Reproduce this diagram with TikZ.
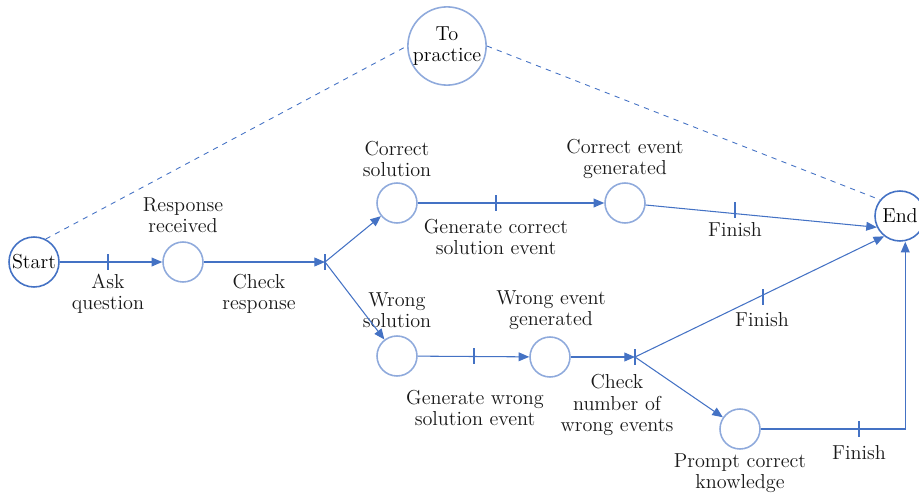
\documentclass[tikz,border=0pt]{standalone}
\usetikzlibrary{arrows.meta}
\definecolor{flowblue}{RGB}{68,114,196}
\definecolor{ringblue}{RGB}{143,170,220}
\begin{document}
\begin{tikzpicture}[x=0.02cm,y=-0.02cm,>={Triangle[length=6pt,width=5pt]},font=\fontsize{11.5}{12}\selectfont]
        \tikzstyle{state}=[circle,draw=ringblue,line width=0.9pt,minimum size=0.8cm,inner sep=0pt,align=center]
        \tikzstyle{terminal}=[circle,draw=flowblue,line width=0.9pt,minimum size=1cm,inner sep=0pt]
        \tikzstyle{edge}=[color=flowblue,line width=0.6pt,->]
        \tikzstyle{link}=[color=flowblue,line width=0.5pt,dashed]
        \tikzstyle{tick}=[color=flowblue,line width=0.6pt]
        \tikzstyle{caption}=[align=center,text=black!90]
        \useasboundingbox (0,0) rectangle (919,497);
       \begin{scope}
         % states
         \node [terminal] (start) at (34,262) {Start};
         \node [terminal] (end) at (900,216) {End};
         \node [state,minimum size=1.42cm] (practice) at (447,46) {To\\practice};
         \node [state] (received) at (183,262) {};
         \node [state] (correct) at (397,203) {};
         \node [state] (correctev) at (625,203) {};
         \node [state] (wrong) at (397,356) {};
         \node [state] (wrongev) at (550,357) {};
         \node [state] (prompt) at (740,429) {};
         \coordinate (check) at (325,262);
         \coordinate (count) at (635,357);
         % state captions
         \node [caption] (received-l) at (183,215) {Response\\received};
         \node [caption] (correct-l) at (397,159) {Correct\\solution};
         \node [caption] (correctev-l) at (625,159) {Correct event\\generated};
         \node [caption] (wrong-l) at (397,310) {Wrong\\solution};
         \node [caption] (wrongev-l) at (551,310) {Wrong event\\generated};
         \node [caption] (prompt-l) at (740,473) {Prompt correct\\knowledge};
         % transitions
         \draw[edge] (start) -- (received);
         \draw[edge] (received) -- (check);
         \draw[edge] (check) -- (correct);
         \draw[edge] (check) -- (wrong);
         \draw[edge] (correct) -- (correctev);
         \draw[edge] (correctev) -- (end.206);
         \draw[edge] (wrong) -- (wrongev);
         \draw[edge] (wrongev) -- (count);
         \draw[edge] (count) -- (end.232);
         \draw[edge] (count) -- (prompt);
         \draw[edge] (prompt) -| ([xshift=3]end.south);
         \draw[link] (start.63) -- (practice.west);
         \draw[link] (practice.east) -- (end.141);
         % ticks
         \foreach \x/\y in {108/262,325/262,496/203,735/210,474/356,635/357,763/297,859/429}
           \draw[tick] (\x,\y-8) -- (\x,\y+8);
         % transition captions
         \node [caption] (ask) at (108,294) {Ask\\question};
         \node [caption] (check-l) at (259,294) {Check\\response};
         \node [caption] (gencorrect) at (496,237) {Generate correct\\solution event};
         \node [caption] (finish1) at (735,230) {Finish};
         \node [caption] (genwrong) at (475,408) {Generate wrong\\solution event};
         \node [caption] (count-l) at (617,405) {Check\\number of\\wrong events};
         \node [caption] (finish2) at (762,320) {Finish};
         \node [caption] (finish3) at (859,453) {Finish};
        \end{scope}
      \end{tikzpicture}
\end{document}
